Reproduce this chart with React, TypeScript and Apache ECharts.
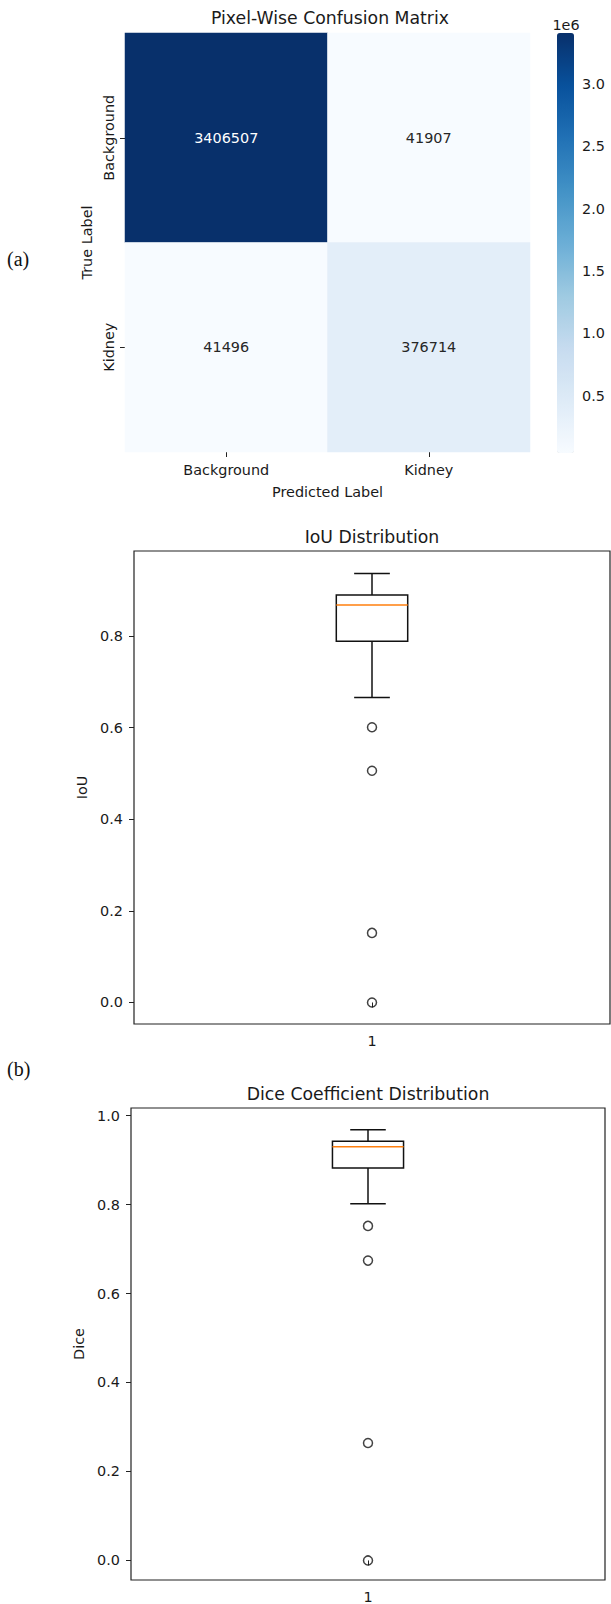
import React, { useEffect, useRef } from "react";
import * as echarts from "echarts";

// ---------- data ----------
const predictedLabels = ["Background", "Kidney"];
const trueLabels = ["Background", "Kidney"];
// rows = true label, columns = predicted label
const rowBackground = [3406507, 41907];
const rowKidney = [41496, 376714];
const colorbarTicks = [500000, 1000000, 1500000, 2000000, 2500000, 3000000];
const blues = ["#f7fbff", "#deebf7", "#c6dbef", "#9ecae1", "#6baed6", "#4292c6", "#2171b5", "#08519c", "#08306b"];

const boxCategories = ["1"];
// [lower whisker, Q1, median, Q3, upper whisker]
const iouBox = [0.666, 0.789, 0.868, 0.89, 0.937];
const iouOutliers = [0.601, 0.506, 0.152, 0.0];
const iouTicks = [0, 0.2, 0.4, 0.6, 0.8];
const diceBox = [0.802, 0.882, 0.93, 0.942, 0.968];
const diceOutliers = [0.752, 0.674, 0.264, 0.0];
const diceTicks = [0, 0.2, 0.4, 0.6, 0.8, 1.0];

const FONT = "DejaVu Sans";
const TXT = "#1a1a1a";
const FS = 14.4;
const TFS = 17.3;

export default function App() {
  const ref = useRef<HTMLDivElement>(null);
  useEffect(() => {
    if (!ref.current) return;
    const chart = echarts.init(ref.current, null, { renderer: "svg" });
    const matrix = [rowBackground, rowKidney];
    const allVals = matrix.flat();
    const vMin = Math.min(...allVals);
    const vMax = Math.max(...allVals);
    const heatData: any[] = [];
    matrix.forEach((row, r) =>
      row.forEach((v, c) => {
        heatData.push({
          value: [c, r, v],
          label: { color: v > (vMin + vMax) / 2 ? "#ffffff" : "#262626" },
        });
      })
    );

    const boxRender = (params: any, api: any) => {
      const x = api.value(0);
      const lo = api.coord([x, api.value(1)]);
      const q1 = api.coord([x, api.value(2)]);
      const med = api.coord([x, api.value(3)]);
      const q3 = api.coord([x, api.value(4)]);
      const hi = api.coord([x, api.value(5)]);
      const band = api.size([1, 0])[0];
      const bw = band * 0.15;
      const cw = bw / 2;
      const cx = lo[0];
      const st = { stroke: "#111", lineWidth: 1.5, fill: "none" };
      return {
        type: "group",
        children: [
          { type: "line", shape: { x1: cx, y1: hi[1], x2: cx, y2: q3[1] }, style: st },
          { type: "line", shape: { x1: cx, y1: q1[1], x2: cx, y2: lo[1] }, style: st },
          { type: "line", shape: { x1: cx - cw / 2, y1: hi[1], x2: cx + cw / 2, y2: hi[1] }, style: st },
          { type: "line", shape: { x1: cx - cw / 2, y1: lo[1], x2: cx + cw / 2, y2: lo[1] }, style: st },
          { type: "rect", shape: { x: cx - bw / 2, y: q3[1], width: bw, height: q1[1] - q3[1] }, style: st },
          { type: "line", shape: { x1: cx - bw / 2, y1: med[1], x2: cx + bw / 2, y2: med[1] }, style: { stroke: "#ff7f0e", lineWidth: 1.5 } },
        ],
      };
    };

    const tickFmt = (v: number) => v.toFixed(1);
    const boxYAxis = (gi: number, min: number, max: number, ticks: number[], name: string, gap: number) => ({
      type: "value",
      gridIndex: gi,
      min,
      max,
      name,
      nameLocation: "middle",
      nameGap: gap,
      nameTextStyle: { fontFamily: FONT, fontSize: FS, color: TXT },
      splitLine: { show: false },
      axisLine: { show: false },
      axisTick: { show: true, length: 5, customValues: ticks, lineStyle: { color: "#222", width: 1 } },
      axisLabel: { customValues: ticks, formatter: tickFmt, fontFamily: FONT, fontSize: FS, color: TXT, margin: 11 },
    });
    const boxXAxis = (gi: number) => ({
      type: "category",
      gridIndex: gi,
      data: boxCategories,
      boundaryGap: true,
      axisLine: { show: false },
      axisTick: { show: true, alignWithLabel: true, length: 5, lineStyle: { color: "#222", width: 1 } },
      axisLabel: { fontFamily: FONT, fontSize: FS, color: TXT, margin: 10 },
      splitLine: { show: false },
    });

    const option: any = {
      animation: false,
      backgroundColor: "#ffffff",
      textStyle: { fontFamily: FONT },
      grid: [
        { left: 125, top: 33, width: 405, height: 419 },
        { left: 557, top: 33, width: 17, height: 420 },
        { left: 134, top: 551, width: 476, height: 473, show: true, borderColor: "#222", borderWidth: 1.2, backgroundColor: "transparent" },
        { left: 131, top: 1108, width: 474, height: 472, show: true, borderColor: "#222", borderWidth: 1.2, backgroundColor: "transparent" },
      ],
      xAxis: [
        {
          type: "category",
          gridIndex: 0,
          data: predictedLabels,
          name: "Predicted Label",
          nameLocation: "middle",
          nameGap: 33,
          nameTextStyle: { fontFamily: FONT, fontSize: FS, color: TXT },
          axisLine: { show: false },
          axisTick: { show: true, alignWithLabel: true, length: 5, lineStyle: { color: "#222" } },
          axisLabel: { fontFamily: FONT, fontSize: FS, color: TXT, margin: 11 },
          splitArea: { show: false },
        },
        { type: "value", gridIndex: 1, show: false, min: 0, max: 1 },
        boxXAxis(2),
        boxXAxis(3),
      ],
      yAxis: [
        {
          type: "category",
          gridIndex: 0,
          data: trueLabels,
          inverse: true,
          name: "True Label",
          nameLocation: "middle",
          nameGap: 31,
          nameTextStyle: { fontFamily: FONT, fontSize: FS, color: TXT },
          axisLine: { show: false },
          axisTick: { show: true, alignWithLabel: true, length: 5, lineStyle: { color: "#222" } },
          axisLabel: { fontFamily: FONT, fontSize: FS, color: TXT, rotate: 90, margin: 9 },
          splitArea: { show: false },
        },
        {
          type: "value",
          gridIndex: 1,
          position: "right",
          min: vMin,
          max: vMax,
          splitLine: { show: false },
          axisLine: { show: false },
          axisTick: { show: true, length: 5, customValues: colorbarTicks, lineStyle: { color: "#222" } },
          axisLabel: {
            customValues: colorbarTicks,
            formatter: (v: number) => (v / 1e6).toFixed(1),
            fontFamily: FONT,
            fontSize: FS,
            color: TXT,
            margin: 8,
          },
        },
        boxYAxis(2, -0.047, 0.986, iouTicks, "IoU", 41),
        boxYAxis(3, -0.044, 1.017, diceTicks, "Dice", 42),
      ],
      visualMap: {
        type: "continuous",
        min: vMin,
        max: vMax,
        seriesIndex: 0,
        calculable: false,
        orient: "vertical",
        left: 557,
        top: 33,
        itemWidth: 17,
        itemHeight: 420,
        padding: 0,
        inRange: { color: blues },
        textStyle: { color: TXT, fontFamily: FONT },
      },
      graphic: [
        { type: "text", x: 330, y: 18, style: { text: "Pixel-Wise Confusion Matrix", font: `${TFS}px "${FONT}"`, fill: TXT, align: "center", verticalAlign: "middle" } },
        { type: "text", x: 566, y: 25, style: { text: "1e6", font: `${FS}px "${FONT}"`, fill: TXT, align: "center", verticalAlign: "middle" } },
        { type: "text", x: 7, y: 259, style: { text: "(a)", font: `20px "Liberation Serif"`, fill: "#111", align: "left", verticalAlign: "middle" } },
        { type: "text", x: 372, y: 537, style: { text: "IoU Distribution", font: `${TFS}px "${FONT}"`, fill: TXT, align: "center", verticalAlign: "middle" } },
        { type: "text", x: 7, y: 1069, style: { text: "(b)", font: `20px "Liberation Serif"`, fill: "#111", align: "left", verticalAlign: "middle" } },
        { type: "text", x: 368, y: 1094, style: { text: "Dice Coefficient Distribution", font: `${TFS}px "${FONT}"`, fill: TXT, align: "center", verticalAlign: "middle" } },
      ],
      series: [
        {
          type: "heatmap",
          xAxisIndex: 0,
          yAxisIndex: 0,
          data: heatData,
          label: { show: true, fontFamily: FONT, fontSize: FS, formatter: (p: any) => String(p.value[2]) },
          emphasis: { disabled: true },
          itemStyle: { borderWidth: 0 },
        },
        {
          type: "custom",
          xAxisIndex: 2,
          yAxisIndex: 2,
          renderItem: boxRender,
          encode: { x: 0, y: [1, 2, 3, 4, 5] },
          data: [[0, ...iouBox]],
          silent: true,
        },
        {
          type: "scatter",
          xAxisIndex: 2,
          yAxisIndex: 2,
          symbol: "circle",
          symbolSize: 9,
          itemStyle: { color: "rgba(0,0,0,0)", borderColor: "#111", borderWidth: 1.5 },
          data: iouOutliers.map((v) => [0, v]),
          silent: true,
        },
        {
          type: "custom",
          xAxisIndex: 3,
          yAxisIndex: 3,
          renderItem: boxRender,
          encode: { x: 0, y: [1, 2, 3, 4, 5] },
          data: [[0, ...diceBox]],
          silent: true,
        },
        {
          type: "scatter",
          xAxisIndex: 3,
          yAxisIndex: 3,
          symbol: "circle",
          symbolSize: 9,
          itemStyle: { color: "rgba(0,0,0,0)", borderColor: "#111", borderWidth: 1.5 },
          data: diceOutliers.map((v) => [0, v]),
          silent: true,
        },
      ],
    };
    chart.setOption(option);
    return () => chart.dispose();
  }, []);

  return (
    <div
      ref={ref}
      style={{ position: "absolute", left: 0, top: 0, width: 611, height: 1604, background: "#fff" }}
    />
  );
}
